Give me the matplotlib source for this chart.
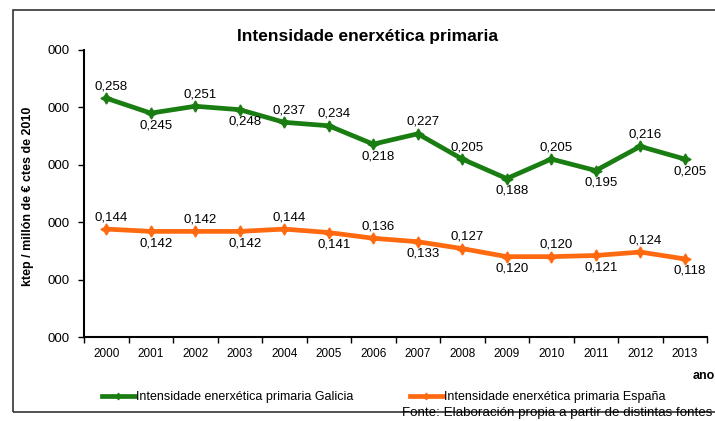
import numpy as np
import matplotlib
matplotlib.use('Agg')
import matplotlib.pyplot as plt
from matplotlib.patches import Rectangle

plt.rcParams['font.family'] = ['Liberation Sans', 'DejaVu Sans']

# data
years = ['2000', '2001', '2002', '2003', '2004', '2005', '2006',
         '2007', '2008', '2009', '2010', '2011', '2012', '2013']
galicia = [0.258, 0.245, 0.251, 0.248, 0.237, 0.234, 0.218,
           0.227, 0.205, 0.188, 0.205, 0.195, 0.216, 0.205]
espana = [0.144, 0.142, 0.142, 0.142, 0.144, 0.141, 0.136,
          0.133, 0.127, 0.120, 0.120, 0.121, 0.124, 0.118]
# label placement: 1 = above, -1 = below
galicia_pos = [1, -1, 1, -1, 1, 1, -1, 1, 1, -1, 1, -1, 1, -1]
espana_pos = [1, -1, 1, -1, 1, -1, 1, -1, 1, -1, 1, -1, 1, -1]
yticks = [0.05, 0.10, 0.15, 0.20, 0.25, 0.30]
ytick_labels = ['000', '000', '000', '000', '000', '000']

green = '#1a7d12'
orange = '#ff6a10'

fig = plt.figure(figsize=(7.15, 4.21), dpi=100)
ax = fig.add_axes([84 / 715, 1 - 337 / 421, (707 - 84) / 715, (337 - 50) / 421])

x = np.arange(len(years))
star = (4, 1, 0)
ax.plot(x, galicia, color=green, lw=3.4, marker=star, ms=8, label='Intensidade enerxética primaria Galicia')
ax.plot(x, espana, color=orange, lw=3.4, marker=star, ms=8, label='Intensidade enerxética primaria España')

def fmt(v):
    return f'{v:.3f}'.replace('.', ',')

for xi, v, p in zip(x, galicia, galicia_pos):
    ax.annotate(fmt(v), (xi, v), xytext=(5, 12 * p), textcoords='offset pixels',
                ha='center', va='center', fontsize=9.5)
for xi, v, p in zip(x, espana, espana_pos):
    ax.annotate(fmt(v), (xi, v), xytext=(5, 12 * p), textcoords='offset pixels',
                ha='center', va='center', fontsize=9.5)

ax.set_xlim(-0.5, len(years) - 0.5)
ax.set_ylim(0.05, 0.30)
ax.set_yticks(yticks)
ax.set_yticklabels(ytick_labels, fontsize=9.5)
ax.set_xticks(x)
ax.set_xticklabels(years, fontsize=8.5)
ax.set_xticks(np.arange(-0.5, len(years)), minor=True)
ax.tick_params(axis='x', which='major', length=0, pad=8)
ax.tick_params(axis='x', which='minor', length=4, width=1)
ax.tick_params(axis='y', length=4, width=1, pad=6)
for s in ['top', 'right']:
    ax.spines[s].set_visible(False)
for s in ['left', 'bottom']:
    ax.spines[s].set_linewidth(1.5)

fig.text(368 / 715, 1 - 37 / 421, 'Intensidade enerxética primaria', ha='center', va='center',
         fontsize=12.5, fontweight='bold')
fig.text(28 / 715, 1 - 196 / 421, 'ktep / millón de € ctes de 2010', rotation=90,
         ha='center', va='center', fontsize=9, fontweight='bold')
fig.text(693 / 715, 1 - 376 / 421, 'ano', ha='left', va='center', fontsize=9, fontweight='bold')

fig.legend(loc='center', bbox_to_anchor=(384 / 715, 1 - 397 / 421), ncol=2, frameon=False,
           fontsize=9, handlelength=2.6, handletextpad=0.15, columnspacing=4.5,
           markerscale=0.6)

fig.patches.append(Rectangle((13 / 715, 1 - 412 / 421), 1.0, (412 - 10) / 421,
                             transform=fig.transFigure, fill=False, edgecolor='#333333', lw=1.2))
fig.text(402 / 715, 1 - 407 / 421, 'Fonte: Elaboración propia a partir de distintas fontes',
         ha='left', va='top', fontsize=9.6)

fig.savefig('out.png', dpi=100)
